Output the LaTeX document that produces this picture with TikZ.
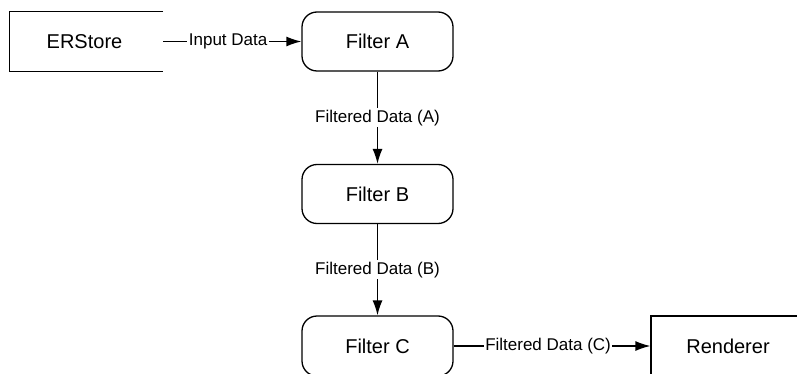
\documentclass[tikz,border=0pt]{standalone}
\usepackage{fontspec}
\setmainfont{Liberation Sans}
\usetikzlibrary{arrows.meta}
\begin{document}
\begin{tikzpicture}[x=1pt,y=-1pt,
  boxtext/.style={font=\fontsize{20}{24}\selectfont},
  filterbox/.style={draw, line width=1.3pt, rounded corners=15pt, minimum width=151pt, minimum height=59pt, inner sep=0pt, boxtext},
  plainbox/.style={minimum width=153pt, minimum height=59pt, inner sep=0pt, boxtext},
  flow/.style={line width=1.3pt, -{Latex[length=15pt,width=10pt]}},
  lbl/.style={fill=white, inner sep=1.5pt, font=\fontsize{17}{20}\selectfont}
]
\useasboundingbox (0,0) rectangle (797,374);
\clip (0,0) rectangle (797,374);
\fill[white] (0,0) rectangle (797,374);
% nodes
\node[plainbox] (er) at (86.5,41.5) {\hspace*{-4pt}ERStore};
\draw[line width=1.3pt] (er.north east) -- (er.north west) -- (er.south west) -- (er.south east);
\node[filterbox] (fa) at (377.5,41.5) {Filter A};
\node[filterbox] (fb) at (377.5,194) {Filter B};
\node[filterbox, minimum height=60pt] (fc) at (377.5,346) {Filter C};
\node[draw, line width=1.3pt, minimum width=154pt, minimum height=60pt, inner sep=0pt, boxtext] (rd) at (728,346) {Renderer};
% connectors
\draw[flow] (er) -- node[lbl, pos=0.47] {Input Data} (fa);
\draw[flow] (fa) -- node[lbl] {Filtered Data (A)} (fb);
\draw[flow] (fb) -- node[lbl] {Filtered Data (B)} (fc);
\draw[flow] (fc) -- node[lbl, pos=0.48] {Filtered Data (C)} (rd);
\end{tikzpicture}
\end{document}
